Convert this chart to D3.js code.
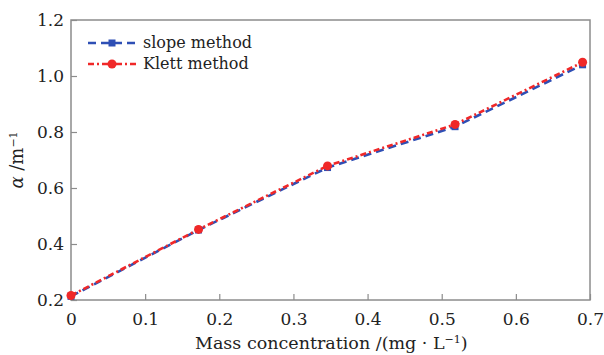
<!DOCTYPE html>
<html><head><meta charset="utf-8">
<script src="https://cdn.jsdelivr.net/npm/d3@7"></script>
<style>body{margin:0;background:#fff}svg{display:block}</style>
</head><body>
<script>
const xValues = [0, 0.172, 0.346, 0.518, 0.690];
const slopeValues = [0.213, 0.450, 0.673, 0.819, 1.040];
const klettValues = [0.216, 0.452, 0.679, 0.827, 1.049];
const xTicks = [0, 0.1, 0.2, 0.3, 0.4, 0.5, 0.6, 0.7];
const yTicks = [0.2, 0.4, 0.6, 0.8, 1.0, 1.2];
const seriesNames = ["slope method", "Klett method"];

const W = 604, H = 355;
const m = {l: 71, r: 14, t: 20, b: 55};
const svg = d3.select("body").append("svg").attr("width", W).attr("height", H);
const font = "'DejaVu Serif', serif";
const x = d3.scaleLinear().domain([0, 0.7]).range([m.l, W - m.r]);
const y = d3.scaleLinear().domain([0.2, 1.2]).range([H - m.b, m.t]);
const frame = "#8c8c8c";

// frame
svg.append("rect").attr("x", x(0)).attr("y", y(1.2)).attr("width", x(0.7) - x(0)).attr("height", y(0.2) - y(1.2))
  .attr("fill", "none").attr("stroke", frame).attr("stroke-width", 1.5);

const xAxis = svg.append("g").attr("transform", `translate(0,${y(0.2)})`)
  .call(d3.axisBottom(x).tickValues(xTicks).tickSize(-6).tickPadding(13).tickFormat(d => d === 0 ? "0" : d3.format(".1f")(d)));
const yAxis = svg.append("g").attr("transform", `translate(${x(0)},0)`)
  .call(d3.axisLeft(y).tickValues(yTicks).tickSize(-6).tickPadding(7).tickFormat(d3.format(".1f")));
[xAxis, yAxis].forEach(g => {
  g.select(".domain").remove();
  g.selectAll("line").attr("stroke", frame).attr("stroke-width", 1.2);
  g.selectAll("text").attr("fill", "#222").style("font-family", font).style("font-size", "17px");
});

// lines
const line = vals => d3.line().x((d, i) => x(xValues[i])).y(d => y(d))(vals);
const blue = "#2e4fb5", red = "#f02828";
svg.append("path").attr("d", line(slopeValues)).attr("fill", "none").attr("stroke", blue)
  .attr("stroke-width", 2.6).attr("stroke-dasharray", "8,5");
svg.selectAll(".sq").data(slopeValues).join("rect")
  .attr("x", (d, i) => x(xValues[i]) - 3.5).attr("y", d => y(d) - 3.5).attr("width", 7).attr("height", 7).attr("fill", blue);
svg.append("path").attr("d", line(klettValues)).attr("fill", "none").attr("stroke", red)
  .attr("stroke-width", 2.6).attr("stroke-dasharray", "6,3,2,3");
svg.selectAll(".ci").data(klettValues).join("circle")
  .attr("cx", (d, i) => x(xValues[i])).attr("cy", d => y(d)).attr("r", 4.5).attr("fill", red);

// legend
const lg = svg.append("g");
[[blue, "8,5", "sq"], [red, "6,3,2,3", "ci"]].forEach((s, i) => {
  const yy = 43 + i * 21;
  lg.append("line").attr("x1", 88).attr("x2", 136).attr("y1", yy).attr("y2", yy)
    .attr("stroke", s[0]).attr("stroke-width", 2.6).attr("stroke-dasharray", s[1]);
  if (s[2] === "sq") lg.append("rect").attr("x", 112 - 3.5).attr("y", yy - 3.5).attr("width", 7).attr("height", 7).attr("fill", s[0]);
  else lg.append("circle").attr("cx", 112).attr("cy", yy).attr("r", 4.5).attr("fill", s[0]);
  lg.append("text").attr("x", 143).attr("y", yy + 5).text(seriesNames[i])
    .style("font-family", font).style("font-size", "16px").attr("fill", "#222");
});

// axis titles
const xt = svg.append("text").attr("x", 195).attr("y", 349).attr("text-anchor", "start")
  .style("font-family", font).style("font-size", "17.5px").attr("fill", "#222");
xt.append("tspan").text("Mass concentration /(mg · L");
xt.append("tspan").text("−1").attr("dy", -6).style("font-size", "11px");
xt.append("tspan").text(")").attr("dy", 6);

const yt = svg.append("text").attr("transform", `translate(23,${(y(0.2) + y(1.2)) / 2}) rotate(-90)`)
  .attr("text-anchor", "middle").style("font-family", font).style("font-size", "18px").attr("fill", "#222");
yt.append("tspan").text("α").style("font-style", "italic");
yt.append("tspan").text(" /m");
yt.append("tspan").text("−1").attr("dy", -6).style("font-size", "11px");
</script>
</body></html>
